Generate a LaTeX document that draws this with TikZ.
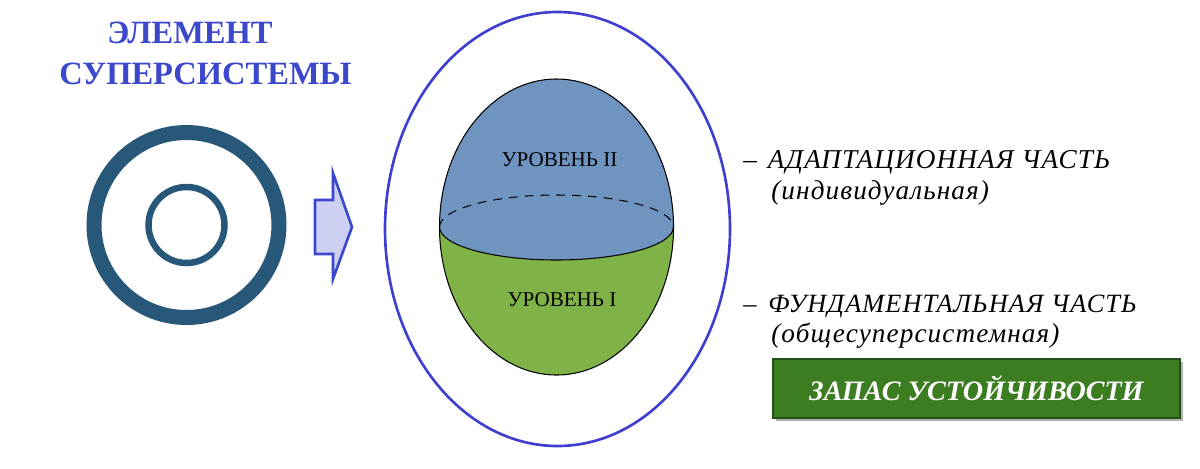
\documentclass[tikz,border=0pt]{standalone}
\usepackage{fontspec}
\setmainfont{Liberation Serif}
\newfontfamily\lsr{Liberation Serif}
\newfontfamily\lsrsp{Liberation Serif}[LetterSpace=4]
\usetikzlibrary{shapes.geometric}
\definecolor{titleblue}{HTML}{3B48CC}
\definecolor{ringblue}{HTML}{27587A}
\definecolor{arrowfill}{HTML}{CDD0F0}
\definecolor{ovalblue}{HTML}{3F3FCF}
\definecolor{topblue}{HTML}{7094C0}
\definecolor{botgreen}{HTML}{80B347}
\definecolor{boxgreen}{HTML}{3C7D22}
\definecolor{boxedge}{HTML}{22501A}
\tikzset{
  titletext/.style={font=\lsr\bfseries\fontsize{18.5}{22}\selectfont, text=titleblue, inner sep=0pt},
  level/.style={font=\lsr\fontsize{12}{14}\selectfont, inner sep=0pt},
  part/.style={font=\lsrsp\fontsize{15.5}{18}\selectfont, inner sep=0pt, anchor=base west},
  ring/.style={draw=ringblue},
  reserve/.style={fill=boxgreen, draw=boxedge, line width=1.2pt, text=white,
     font=\lsr\bfseries\itshape\fontsize{16}{19}\selectfont},
}
\begin{document}
\begin{tikzpicture}[x=0.02cm,y=0.02cm]
\useasboundingbox (0,-468) rectangle (1200,0);
% title
\node[titletext] (t1) at (190,-32.5) {ЭЛЕМЕНТ};
\node[titletext] (t2) at (205.5,-73.5) {СУПЕРСИСТЕМЫ};
% rings
\coordinate (rc) at (186.5,-225);
\draw[ring, line width=15*0.02cm] (rc) circle[radius=92.5];
\draw[ring, line width=6.5*0.02cm] (rc) circle[radius=38];
% arrow
\draw[draw=titleblue, fill=arrowfill, line width=1.5pt, line join=miter]
  (315,-200) -- (333,-200) -- (333,-173) -- (352,-227) -- (333,-279) -- (333,-254) -- (315,-254) -- cycle;
% outer oval
\node[draw=ovalblue, line width=1.5pt, ellipse, minimum width=345*0.02cm, minimum height=434*0.02cm, inner sep=0pt] (oval) at (557.5,-229) {};
% egg
\coordinate (eL) at (439.5,-227);
\fill[botgreen] (eL) arc[start angle=180,end angle=360,x radius=117,y radius=33]
   arc[start angle=0,end angle=-180,x radius=117,y radius=148] -- cycle;
\fill[topblue] (eL) arc[start angle=180,end angle=360,x radius=117,y radius=33]
   arc[start angle=0,end angle=180,x radius=117,y radius=148] -- cycle;
\draw[line width=0.6pt] (eL) arc[start angle=180,end angle=360,x radius=117,y radius=33];
\draw[line width=0.6pt] (eL) arc[start angle=180,end angle=0,x radius=117,y radius=148]
   arc[start angle=0,end angle=-180,x radius=117,y radius=148];
\draw[line width=0.6pt, dash pattern=on 5pt off 4pt] (eL) arc[start angle=180,end angle=0,x radius=117,y radius=32];
\node[level] (l2) at (559.5,-160) {УРОВЕНЬ II};
\node[level] (l1) at (562,-300) {УРОВЕНЬ I};
% right texts
\node[part] (a1) at (743,-168) {–\hspace{0.4em}\textit{АДАПТАЦИОННАЯ ЧАСТЬ}};
\node[part] (a2) at (771,-199) {\textit{(индивидуальная)}};
\node[part, font=\lsrsp\fontsize{15}{18}\selectfont] (f1) at (743,-312) {–\hspace{0.45em}\textit{ФУНДАМЕНТАЛЬНАЯ ЧАСТЬ}};
\node[part] (f2) at (771,-342) {\textit{(общесуперсистемная)}};
\fill[black!30] (776,-362) rectangle (1183,-421);
\node[reserve, minimum width=407*0.02cm, minimum height=59*0.02cm, inner sep=0pt] (box) at (976.5,-388.5) {ЗАПАС УСТОЙЧИВОСТИ};
\end{tikzpicture}
\end{document}
